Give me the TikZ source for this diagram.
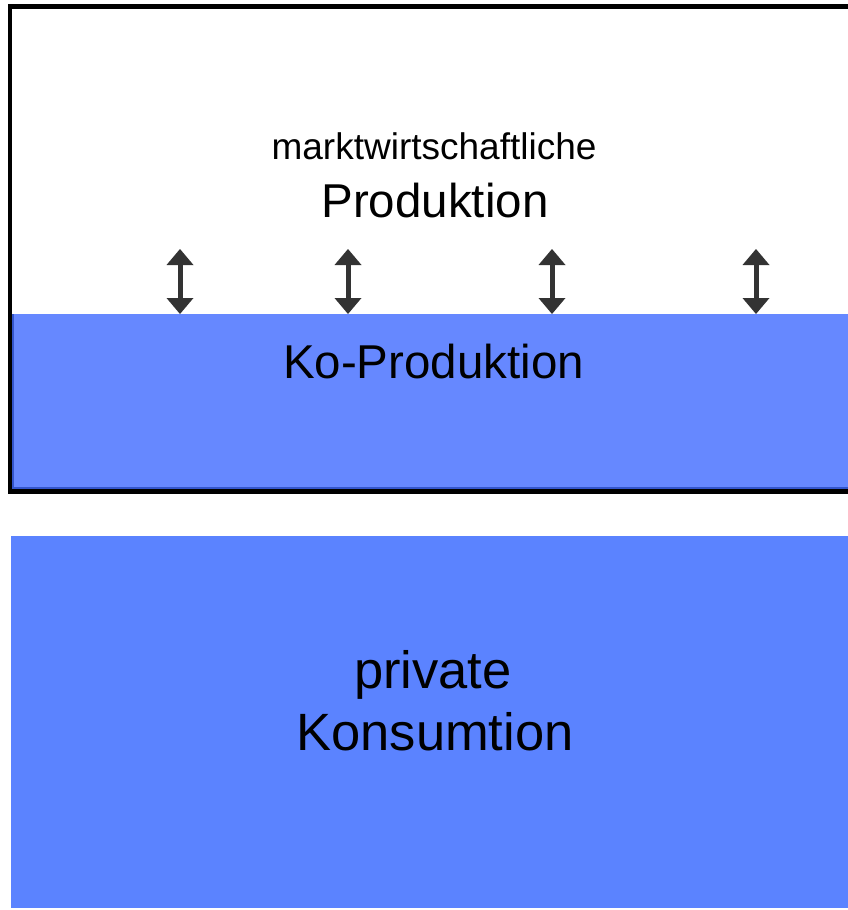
\documentclass[tikz,border=0pt]{standalone}
\usepackage{fontspec}
\setmainfont{Liberation Sans}
\usetikzlibrary{arrows.meta}
\definecolor{koblue}{RGB}{102,136,255}
\definecolor{kodark}{RGB}{51,85,204}
\definecolor{pkblue}{RGB}{91,131,255}
\definecolor{arrowgray}{RGB}{51,51,51}
\begin{document}
\begin{tikzpicture}[x=1pt,y=-1pt,
  lbl/.style={anchor=base,inner sep=0pt,outer sep=0pt},
  bluebox/.style={anchor=north west,inner sep=0pt,outer sep=0pt},
  dblarrow/.style={draw=arrowgray,line width=5pt,
    {Triangle[width=27pt,length=16pt,line width=0pt 0]}-{Triangle[width=27pt,length=16pt,line width=0pt 0]}}
]
\useasboundingbox (0,0) rectangle (848,910);
\clip (0,0) rectangle (848,910);
% outer frame (open to the right)
\draw[line width=4.5pt] (10,6.5) rectangle (880,491.5);
% Ko-Produktion box
\node[bluebox,fill=koblue,minimum width=868pt,minimum height=175.25pt] (ko) at (12.25,314) {};
\draw[kodark,line width=2pt] (13.25,314) -- (13.25,488.25) -- (880,488.25);
% private Konsumtion box
\node[bluebox,fill=pkblue,minimum width=837pt,minimum height=372pt] (pk) at (11,536) {};
% texts
\node[lbl,font=\fontsize{37}{44}\selectfont] (mw) at (434,159) {marktwirtschaftliche};
\node[lbl,font=\fontsize{47.5}{57}\selectfont] (prod) at (435,217) {Produktion};
\node[lbl,font=\fontsize{47.5}{57}\selectfont] (kotext) at (433.5,378) {Ko-Produktion};
\node[lbl,font=\fontsize{52.5}{63}\selectfont] (priv) at (433,688) {private};
\node[lbl,font=\fontsize{52.5}{63}\selectfont] (kons) at (435,750) {Konsumtion};
% arrows
\coordinate (t1) at (180,249);
\coordinate (t2) at (348,249);
\coordinate (t3) at (552,249);
\coordinate (t4) at (756,249);
\foreach \t in {t1,t2,t3,t4}{
  \draw[dblarrow] (\t) -- (\t |- ko.north);
}
\end{tikzpicture}
\end{document}
